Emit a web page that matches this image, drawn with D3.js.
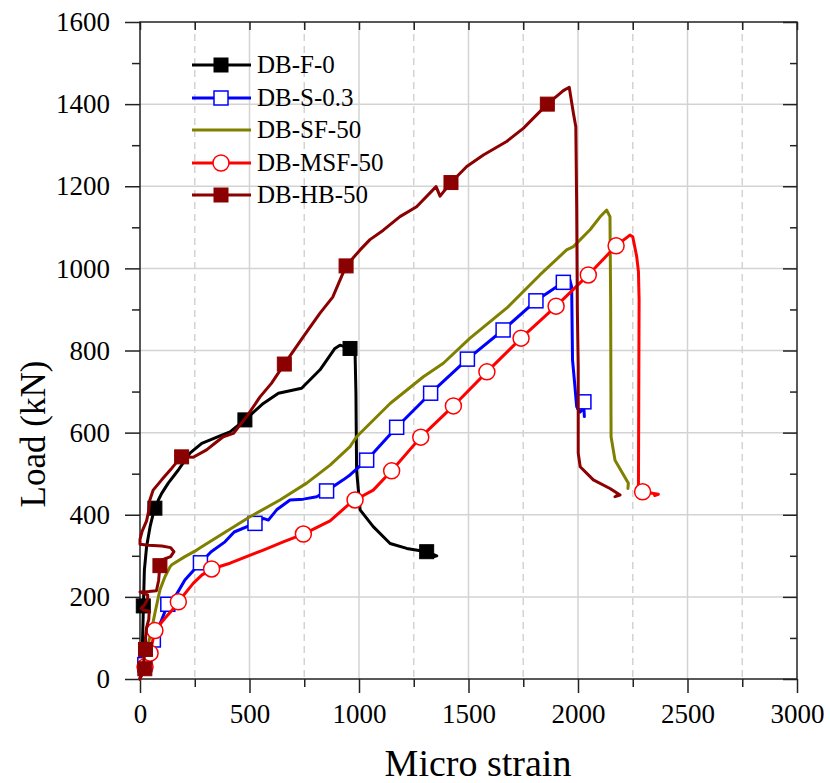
<!DOCTYPE html>
<html>
<head>
<meta charset="utf-8">
<script src="https://cdn.jsdelivr.net/npm/d3@7"></script>
<style>
  html, body { margin: 0; padding: 0; background: #fff; }
  svg { display: block; }
  text { font-family: "Liberation Serif", "Times New Roman", serif; fill: #000; }
</style>
</head>
<body>
<svg id="chart" width="830" height="783"></svg>
<script>
// ---------- data ----------
const xTicks = [0, 500, 1000, 1500, 2000, 2500, 3000];
const xMinorTicks = [250, 750, 1250, 1750, 2250, 2750];
const yTicks = [0, 200, 400, 600, 800, 1000, 1200, 1400, 1600];
const yMinorTicks = [100, 300, 500, 700, 900, 1100, 1300, 1500];

const seriesNames = ["DB-F-0", "DB-S-0.3", "DB-SF-50", "DB-MSF-50", "DB-HB-50"];

const dbF0 = [[0,0],[8,30],[10,63],[14,144],[16,188],[20,265],[30,322],[46,371],[61,404],[84,436],[99,452],[129,477],[175,509],[228,550],[282,574],[357,590],[411,602],[479,631],[563,671],[632,696],[738,708],[822,753],[890,805],[913,813],[959,805],[982,795],[986,696],[989,509],[1005,412],[1065,371],[1142,330],[1218,318],[1309,310],[1355,300],[1335,297]];
const dbF0Markers = [[15,178],[68,416],[479,631],[959,805],[1309,310]];

const dbS03 = [[0,0],[15,20],[30,45],[38,63],[61,95],[99,144],[127,182],[160,200],[205,241],[276,283],[325,310],[388,334],[430,358],[525,379],[563,391],[586,387],[624,412],[685,436],[746,438],[807,444],[852,458],[928,485],[959,497],[1035,533],[1172,613],[1327,696],[1495,779],[1658,850],[1808,921],[1933,966],[1963,972],[1971,955],[1975,777],[1986,712],[1994,663],[2010,650],[2027,660],[2029,639]];
const dbS03Markers = [[22,35],[61,95],[127,182],[276,283],[525,379],[852,458],[1035,533],[1172,613],[1327,696],[1495,779],[1658,850],[1808,921],[1933,966],[2027,675]];

const dbSF50 = [[0,0],[20,40],[35,80],[46,103],[68,160],[91,217],[114,249],[137,273],[145,278],[205,298],[259,314],[282,322],[381,355],[502,395],[639,436],[761,477],[868,521],[959,566],[989,590],[1142,671],[1294,736],[1385,769],[1507,830],[1674,903],[1826,984],[1948,1045],[1979,1053],[2055,1094],[2100,1125],[2131,1142],[2146,1126],[2149,923],[2151,590],[2169,533],[2230,477],[2228,464]];

const dbMSF50 = [[0,0],[10,15],[23,30],[35,50],[46,63],[68,118],[114,148],[150,170],[175,188],[243,233],[282,253],[327,268],[411,282],[563,314],[654,334],[746,353],[868,385],[959,428],[982,436],[1065,460],[1149,507],[1282,589],[1431,665],[1584,748],[1740,830],[1900,908],[2047,984],[2174,1055],[2237,1081],[2250,1077],[2268,1029],[2276,992],[2279,923],[2276,468],[2295,456],[2367,450],[2350,447]];
const dbMSF50Markers = [[23,30],[46,63],[68,118],[175,188],[327,268],[746,353],[982,436],[1149,507],[1282,589],[1431,665],[1584,748],[1740,830],[1900,908],[2047,984],[2174,1055],[2295,456]];

const dbHB50 = [[0,0],[10,20],[18,45],[22,70],[25,100],[30,125],[40,145],[42,165],[15,168],[5,172],[20,180],[35,195],[35,205],[10,210],[0,212],[40,213],[75,215],[85,240],[91,276],[100,290],[140,298],[155,310],[140,320],[100,324],[40,326],[0,328],[0,340],[10,360],[30,385],[40,410],[45,436],[60,460],[99,485],[140,510],[175,533],[190,541],[243,540],[304,558],[342,574],[380,590],[426,598],[487,639],[548,687],[600,720],[659,767],[746,834],[822,891],[880,930],[941,1006],[1005,1045],[1050,1070],[1111,1093],[1187,1126],[1263,1150],[1352,1199],[1370,1176],[1420,1209],[1492,1248],[1568,1276],[1674,1309],[1750,1341],[1860,1400],[1933,1433],[1960,1441],[1979,1378],[1990,1345],[1994,1150],[1997,899],[2001,761],[2001,550],[2010,517],[2070,485],[2146,464],[2192,448],[2169,444],[2185,449]];
const dbHB50Markers = [[22,25],[25,72],[91,276],[190,541],[659,767],[941,1006],[1420,1209],[1860,1400]];

const seriesData = [dbF0, dbS03, dbSF50, dbMSF50, dbHB50];
const seriesMarkers = [dbF0Markers, dbS03Markers, [], dbMSF50Markers, dbHB50Markers];
const seriesColors = ["#000000", "#0000ff", "#808000", "#ff0000", "#8b0000"];
const seriesMarkerType = ["filledSquare", "openSquare", "none", "openCircle", "filledSquare"];

// ---------- chart ----------
(function () {
const svg = d3.select("#chart");
const L = 140, R = 797, T = 22, B = 679;
const x = d3.scaleLinear().domain([0, 3000]).range([L, R]);
const y = d3.scaleLinear().domain([0, 1600]).range([B, T]);

// grid
const grid = svg.append("g");
grid.selectAll(".vmaj").data(xTicks.filter(d => d > 0 && d < 3000)).enter().append("line")
  .attr("x1", d => x(d)).attr("x2", d => x(d)).attr("y1", T).attr("y2", B)
  .attr("stroke", "#d3d3d3").attr("stroke-width", 1.5);
grid.selectAll(".vmin").data(xMinorTicks).enter().append("line")
  .attr("x1", d => x(d)).attr("x2", d => x(d)).attr("y1", T).attr("y2", B)
  .attr("stroke", "#d3d3d3").attr("stroke-width", 1.5).attr("stroke-dasharray", "7,5");
grid.selectAll(".hmaj").data(yTicks.filter(d => d > 0 && d < 1600)).enter().append("line")
  .attr("x1", L).attr("x2", R).attr("y1", d => y(d)).attr("y2", d => y(d))
  .attr("stroke", "#d3d3d3").attr("stroke-width", 1.5);

// axes
const axisColor = "#222";
const gBottom = svg.append("g").attr("transform", `translate(0,${B})`)
  .call(d3.axisBottom(x).tickValues(xTicks).tickSize(14).tickPadding(11).tickFormat(d3.format("d")));
const gBottomMinor = svg.append("g").attr("transform", `translate(0,${B})`)
  .call(d3.axisBottom(x).tickValues(xMinorTicks).tickSize(8).tickFormat(""));
const gTop = svg.append("g").attr("transform", `translate(0,${T})`)
  .call(d3.axisBottom(x).tickValues(xTicks.concat(xMinorTicks)).tickSize(8).tickFormat(""));
const gLeft = svg.append("g").attr("transform", `translate(${L},0)`)
  .call(d3.axisLeft(y).tickValues(yTicks).tickSize(15).tickPadding(15).tickFormat(d3.format("d")));
const gLeftMinor = svg.append("g").attr("transform", `translate(${L},0)`)
  .call(d3.axisLeft(y).tickValues(yMinorTicks).tickSize(8).tickFormat(""));
const gRight = svg.append("g").attr("transform", `translate(${R},0)`)
  .call(d3.axisLeft(y).tickValues(yTicks).tickSize(14).tickFormat(""));
const gRightMinor = svg.append("g").attr("transform", `translate(${R},0)`)
  .call(d3.axisLeft(y).tickValues(yMinorTicks).tickSize(7).tickFormat(""));

[gBottom, gBottomMinor, gLeft, gLeftMinor, gTop, gRight, gRightMinor].forEach(g => {
  g.select(".domain").remove();
  g.selectAll("line").attr("stroke", axisColor).attr("stroke-width", 1.5);
  g.selectAll("text").style("font-family", "'Liberation Serif', serif").style("font-size", "27px").attr("fill", "#000");
});
// frame lines
svg.append("rect").attr("x", L).attr("y", T).attr("width", R - L).attr("height", B - T)
  .attr("fill", "none").attr("stroke", axisColor).attr("stroke-width", 1.5);

// axis titles
svg.append("text").attr("x", 478).attr("y", 776).attr("text-anchor", "middle")
  .style("font-size", "38px").text("Micro strain");
svg.append("text").attr("transform", `translate(45,434) rotate(-90)`)
  .attr("text-anchor", "middle").style("font-size", "35px").text("Load (kN)");

// series
const line = d3.line().x(d => x(d[0])).y(d => y(d[1]));
const plot = svg.append("g");

function drawMarker(g, type, color, cx, cy) {
  if (type === "filledSquare") {
    g.append("rect").attr("x", cx - 7).attr("y", cy - 7).attr("width", 14).attr("height", 14)
      .attr("fill", color).attr("stroke", color).attr("stroke-width", 1);
  } else if (type === "openSquare") {
    g.append("rect").attr("x", cx - 7).attr("y", cy - 7).attr("width", 14).attr("height", 14)
      .attr("fill", "#fff").attr("stroke", color).attr("stroke-width", 1.5);
  } else if (type === "openCircle") {
    g.append("circle").attr("cx", cx).attr("cy", cy).attr("r", 8)
      .attr("fill", "#fff").attr("stroke", color).attr("stroke-width", 1.5);
  }
}

seriesData.forEach((data, i) => {
  const g = plot.append("g");
  g.append("path").datum(data).attr("d", line)
    .attr("fill", "none").attr("stroke", seriesColors[i]).attr("stroke-width", 3)
    .attr("stroke-linejoin", "round").attr("stroke-linecap", "round");
  seriesMarkers[i].forEach(m => drawMarker(g, seriesMarkerType[i], seriesColors[i], x(m[0]), y(m[1])));
});

// legend
const legend = svg.append("g");
const legendY = [65, 98, 130, 163, 195];
seriesNames.forEach((name, i) => {
  const g = legend.append("g");
  g.append("line").attr("x1", 192).attr("x2", 251).attr("y1", legendY[i]).attr("y2", legendY[i])
    .attr("stroke", seriesColors[i]).attr("stroke-width", 3);
  drawMarker(g, seriesMarkerType[i], seriesColors[i], 221, legendY[i]);
  g.append("text").attr("x", 257).attr("y", legendY[i] + 8).style("font-size", "25px").text(name);
});
})();
</script>
</body>
</html>
